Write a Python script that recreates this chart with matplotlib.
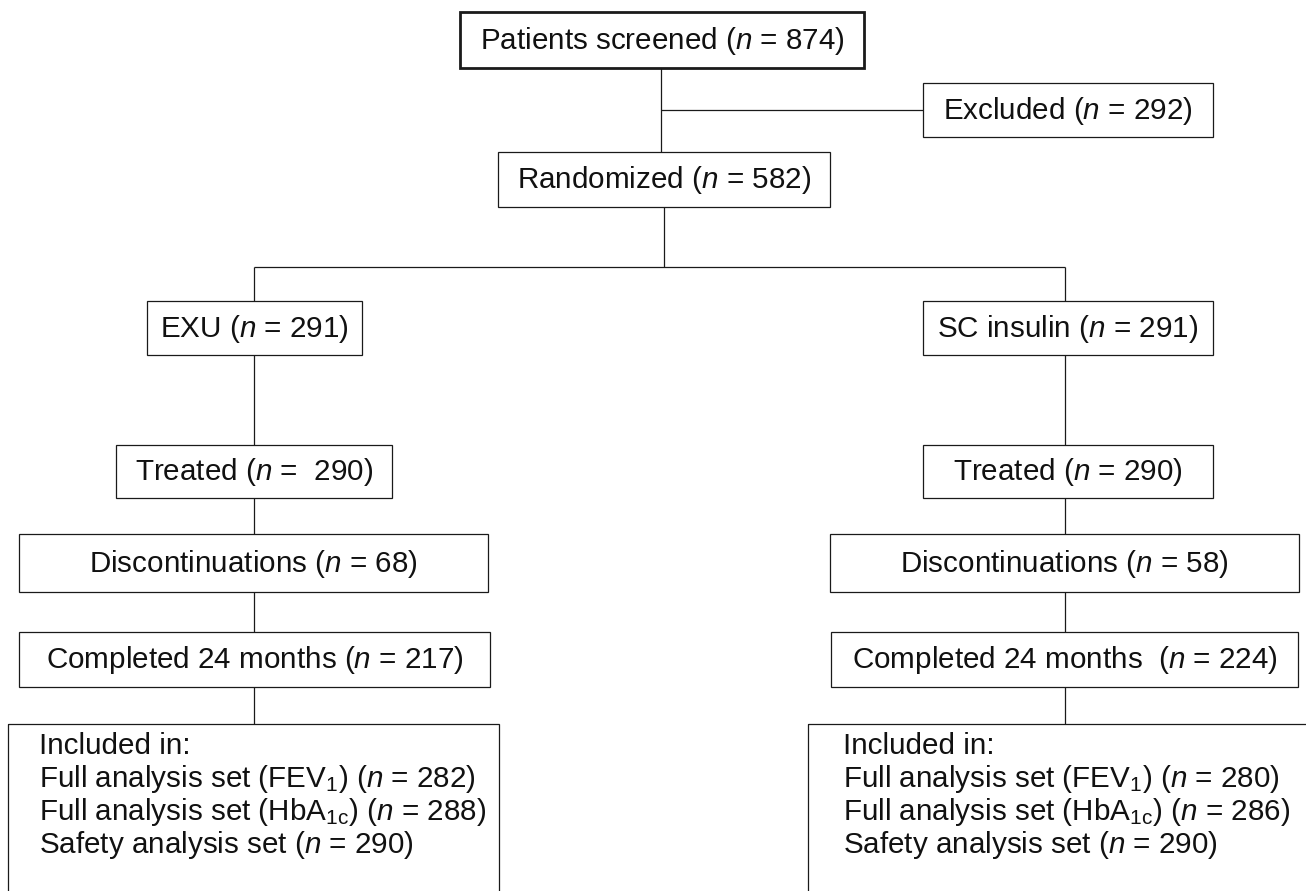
import matplotlib
matplotlib.use("Agg")
import matplotlib.pyplot as plt
from matplotlib.patches import Rectangle

# ---- data ----
n_screened = 874
n_excluded = 292
n_randomized = 582
arms = ["EXU", "SC insulin"]
n_arm = [291, 291]
n_treated = [290, 290]
n_discontinued = [68, 58]
n_completed = [217, 224]
n_fas_fev1 = [282, 280]
n_fas_hba1c = [288, 286]
n_safety = [290, 290]

plt.rcParams['font.family'] = ['Liberation Sans', 'DejaVu Sans']
plt.rcParams['mathtext.fontset'] = 'custom'
plt.rcParams['mathtext.rm'] = 'Liberation Sans'
plt.rcParams['mathtext.it'] = 'Liberation Sans:italic'
plt.rcParams['mathtext.bf'] = 'Liberation Sans:bold'

W, H = 1306, 891
fig = plt.figure(figsize=(W / 100, H / 100), dpi=100)
ax = fig.add_axes([0, 0, 1, 1])
ax.set_xlim(0, W)
ax.set_ylim(H, 0)
ax.axis('off')

FS = 21.3
LW = 0.9


def box(x0, x1, y0, y1, text=None, lw=LW):
    ax.add_patch(Rectangle((x0, y0), x1 - x0, y1 - y0, fill=False,
                           edgecolor='#1a1a1a', linewidth=lw, clip_on=False))
    if text is not None:
        ax.text((x0 + x1) / 2, (y0 + y1) / 2 + 1, text, ha='center', va='center',
                fontsize=FS, color='#111111')


def line(xs, ys):
    ax.plot(xs, ys, color='#1a1a1a', linewidth=LW, solid_capstyle='butt')


def nlab(label, n, gap=' '):
    return f"{label}{gap}($n$ = {n})"

# top section
box(460, 864, 12, 68, nlab("Patients screened", n_screened), lw=2.0)
box(923, 1213, 83, 137, nlab("Excluded", n_excluded))
box(498, 830, 152, 207, nlab("Randomized", n_randomized))
line([661, 661], [68, 152])
line([661, 923], [110, 110])
line([664, 664], [207, 267])
line([254, 1065], [267, 267])

# arm columns
cx = [254, 1065]
arm_box = [(147, 362), (923, 1213)]
trt_box = [(116, 392), (923, 1213)]
dis_box = [(19, 488), (830, 1299)]
cmp_box = [(19, 490), (831, 1298)]
inc_box = [(8, 499), (808, 1330)]
inc_text_x = [39, 843]
treated_txt = ["Treated ($n$ =  {})", "Treated ($n$ = {})"]
completed_gap = [' ', '  ']

for i in range(2):
    c = cx[i]
    line([c, c], [267, 301])
    box(*arm_box[i], 301, 355, nlab(arms[i], n_arm[i]))
    line([c, c], [355, 445])
    box(*trt_box[i], 445, 498, treated_txt[i].format(n_treated[i]))
    line([c, c], [498, 534])
    box(*dis_box[i], 534, 592, nlab("Discontinuations", n_discontinued[i]))
    line([c, c], [592, 632])
    box(*cmp_box[i], 632, 687, nlab("Completed 24 months", n_completed[i], completed_gap[i]))
    line([c, c], [687, 724])
    box(*inc_box[i], 724, 905)
    lines = [
        "Included in:",
        f"Full analysis set (FEV$_{{\\mathrm{{1}}}}$) ($n$ = {n_fas_fev1[i]})",
        f"Full analysis set (HbA$_{{\\mathrm{{1c}}}}$) ($n$ = {n_fas_hba1c[i]})",
        f"Safety analysis set ($n$ = {n_safety[i]})",
    ]
    for k, t in enumerate(lines):
        ax.text(inc_text_x[i], 746 + k * 33, t, ha='left', va='center',
                fontsize=FS, color='#111111')

fig.savefig("out.png", dpi=100)
